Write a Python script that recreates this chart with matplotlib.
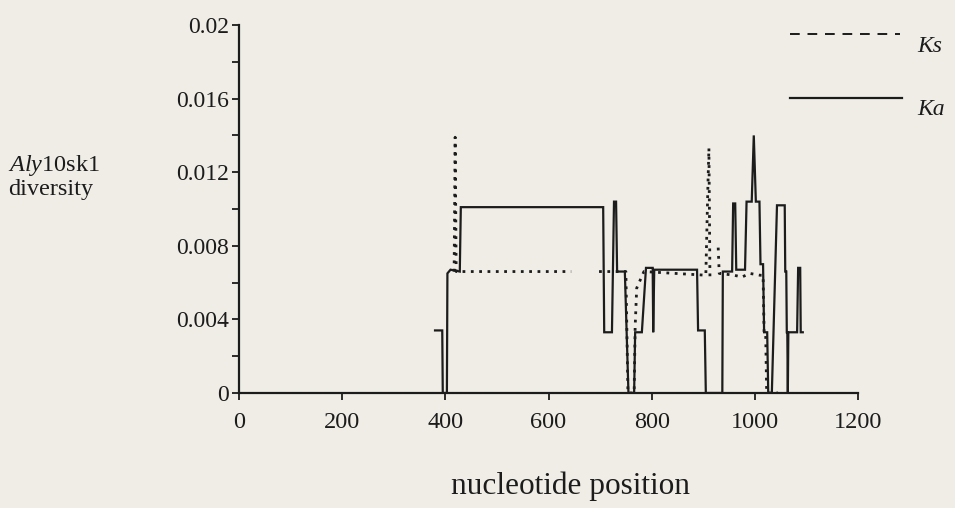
import matplotlib
matplotlib.use("Agg")
import matplotlib.pyplot as plt
import numpy as np
from matplotlib.lines import Line2D
from matplotlib.ticker import MultipleLocator

# ---- DATA ----
ka_pos = [380, 394, 395, 403, 404, 410, 428, 430, 706, 708, 723, 727, 731, 733,
          748, 755, 766, 768, 781, 789, 800, 802, 803, 805, 888, 890, 903, 905,
          937, 938, 956, 958, 962, 964, 981, 984, 994, 998, 1002, 1009, 1011,
          1016, 1018, 1024, 1026, 1033, 1043, 1058, 1059, 1061, 1062, 1063,
          1064, 1065, 1082, 1084, 1088, 1089, 1093]
ka_val = [0.0034, 0.0034, 0, 0, 0.0065, 0.0067, 0.0066, 0.0101, 0.0101, 0.0033,
          0.0033, 0.0104, 0.0104, 0.0066, 0.0066, 0, 0, 0.0033, 0.0033, 0.0068,
          0.0068, 0.0068, 0.0033, 0.0067, 0.0067, 0.0034, 0.0034, 0,
          0, 0.0066, 0.0066, 0.0103, 0.0103, 0.0067, 0.0067, 0.0104, 0.0104,
          0.0140, 0.0104, 0.0104, 0.0070, 0.0070, 0.0033, 0.0033, 0, 0, 0.0102,
          0.0102, 0.0066, 0.0066, 0.0033, 0.0033, 0, 0.0033, 0.0033, 0.0068,
          0.0068, 0.0033, 0.0033]

ks_pos = [417, 419, 421, 644, np.nan, 698, 750, 754, 766, 768, 771, 785, 905,
          909, 911, 913, np.nan, 929, 931, 960, 975, 990, 1010, 1016, 1018,
          1021, 1023, 1045]
ks_val = [0.0066, 0.0139, 0.0066, 0.0066, np.nan, 0.0066, 0.0066, 0, 0, 0.0036,
          0.0057, 0.0066, 0.0064, 0.0112, 0.0133, 0.0063, np.nan, 0.0079,
          0.0065, 0.0064, 0.0063, 0.0065, 0.0064, 0.0064, 0.0033, 0.0033, 0, 0]

x_ticks = [0, 200, 400, 600, 800, 1000, 1200]
y_ticks = [0, 0.004, 0.008, 0.012, 0.016, 0.02]
y_labels = ["0", "0.004", "0.008", "0.012", "0.016", "0.02"]

# ---- STYLE ----
BG = "#efede6"
INK = "#1c1c1c"
plt.rcParams["font.family"] = ["Liberation Serif", "DejaVu Serif"]
plt.rcParams["mathtext.fontset"] = "custom"
plt.rcParams["mathtext.rm"] = "Liberation Serif"
plt.rcParams["mathtext.it"] = "Liberation Serif:italic"

fig = plt.figure(figsize=(9.55, 5.08), dpi=100, facecolor=BG)
ax = fig.add_axes([0.2503, 0.2264, 0.6481, 0.7244])
ax.set_facecolor(BG)

ax.plot(ka_pos, ka_val, color=INK, lw=1.6, solid_joinstyle="miter")
ax.plot(ks_pos, ks_val, color=INK, lw=2.0, linestyle=(0, (1, 2)))

ax.set_xlim(0, 1200)
ax.set_ylim(0, 0.02)
ax.set_xticks(x_ticks)
ax.set_xticklabels([str(t) for t in x_ticks])
ax.set_yticks(y_ticks)
ax.set_yticklabels(y_labels)
ax.yaxis.set_minor_locator(MultipleLocator(0.002))

for s in ["top", "right"]:
    ax.spines[s].set_visible(False)
for s in ["left", "bottom"]:
    ax.spines[s].set_color(INK)
    ax.spines[s].set_linewidth(1.6)

ax.tick_params(axis="both", which="both", direction="out", color=INK,
               width=1.3, labelcolor=INK)
ax.tick_params(axis="y", which="major", length=5, pad=2, labelsize=17)
ax.tick_params(axis="y", which="minor", length=5)
ax.tick_params(axis="x", which="major", length=5, pad=9, labelsize=17.5)

# axis titles
fig.text(0.008, 1 - 165 / 508, "$\\mathit{Aly}$10sk1", fontsize=17.5,
         color=INK, va="center", ha="left")
fig.text(0.008, 1 - 189 / 508, "diversity", fontsize=17.5,
         color=INK, va="center", ha="left")
fig.text(0.597, 0.042, "nucleotide position", fontsize=22.5, color=INK,
         ha="center", va="center")

# legend, drawn by hand like the original
fig.add_artist(Line2D([790 / 955, 900 / 955], [1 - 34 / 508, 1 - 34 / 508],
                      color=INK, lw=1.4, linestyle=(0, (5, 4))))
fig.add_artist(Line2D([790 / 955, 902 / 955], [1 - 98 / 508, 1 - 98 / 508],
                      color=INK, lw=1.6))
fig.text(917 / 955, 1 - 46 / 508, "Ks", fontsize=17, style="italic",
         color=INK, va="center", ha="left")
fig.text(917 / 955, 1 - 109 / 508, "Ka", fontsize=17, style="italic",
         color=INK, va="center", ha="left")

fig.savefig("out.png", dpi=100, facecolor=BG)
